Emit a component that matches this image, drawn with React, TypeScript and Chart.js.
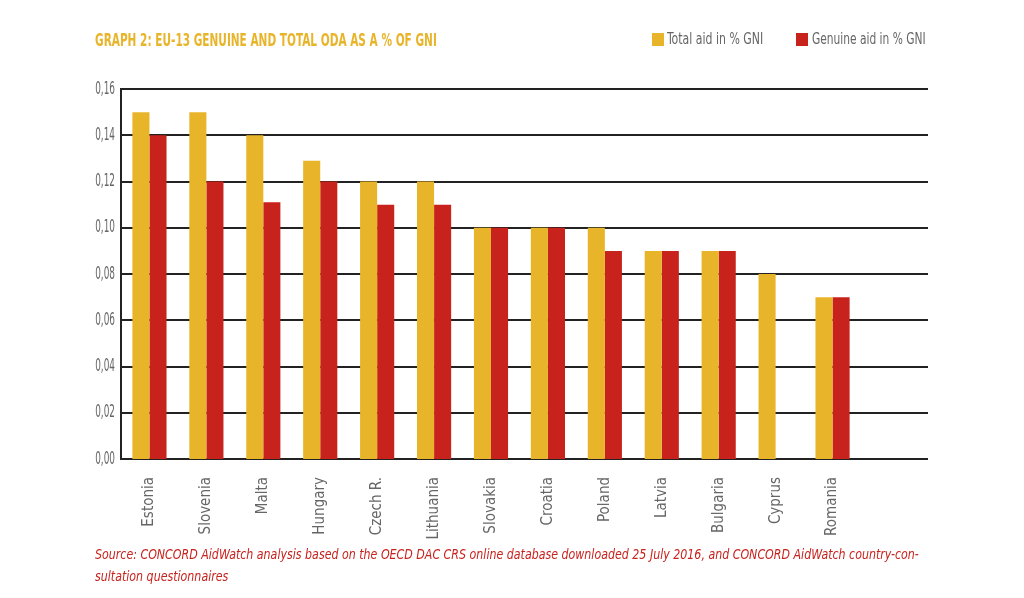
import React, { useEffect, useRef } from "react";
import { Chart, registerables } from "chart.js";

Chart.register(...registerables);

const countries = [
  "Estonia", "Slovenia", "Malta", "Hungary", "Czech R.", "Lithuania", "Slovakia",
  "Croatia", "Poland", "Latvia", "Bulgaria", "Cyprus", "Romania",
];
const totalAid = [0.15, 0.15, 0.14, 0.129, 0.12, 0.12, 0.1, 0.1, 0.1, 0.09, 0.09, 0.08, 0.07];
const genuineAid = [0.14, 0.12, 0.111, 0.12, 0.11, 0.11, 0.1, 0.1, 0.09, 0.09, 0.09, null, 0.07];
const yTicks = [0, 0.02, 0.04, 0.06, 0.08, 0.1, 0.12, 0.14, 0.16];

const GOLD = "#E8B42A";
const RED = "#C8221D";
const GRID = "#222222";
const FONT = "'Liberation Sans Narrow', 'DejaVu Sans Condensed', 'Liberation Sans', sans-serif";

const fmt = (v: number) => v.toFixed(2).replace(".", ",");

const gridPlugin = {
  id: "extGrid",
  beforeDatasetsDraw(chart: any) {
    const { ctx, chartArea, scales } = chart;
    const y = scales.y;
    const extra = 67;
    ctx.save();
    ctx.strokeStyle = GRID;
    ctx.lineWidth = 2;
    for (const t of yTicks) {
      const py = Math.round(y.getPixelForValue(t));
      ctx.beginPath();
      ctx.moveTo(chartArea.left, py);
      ctx.lineTo(chartArea.right + extra, py);
      ctx.stroke();
    }
    ctx.restore();
  },
  afterDraw(chart: any) {
    const { ctx, chartArea, scales } = chart;
    const y = scales.y;
    ctx.save();
    ctx.fillStyle = "#666";
    ctx.font = `18px ${FONT}`;
    ctx.textAlign = "right";
    ctx.textBaseline = "middle";
    for (const t of yTicks) {
      const py = y.getPixelForValue(t);
      ctx.save();
      ctx.translate(chartArea.left - 6, py);
      ctx.scale(0.55, 1);
      ctx.fillText(fmt(t), 0, 0);
      ctx.restore();
    }
    ctx.restore();
  },
};

export default function App() {
  const ref = useRef<HTMLCanvasElement | null>(null);

  useEffect(() => {
    if (!ref.current) return;
    const chart = new Chart(ref.current, {
      type: "bar",
      data: {
        labels: countries,
        datasets: [
          { label: "Total aid in % GNI", data: totalAid, backgroundColor: GOLD, categoryPercentage: 0.6, barPercentage: 1 },
          { label: "Genuine aid in % GNI", data: genuineAid as any, backgroundColor: RED, categoryPercentage: 0.6, barPercentage: 1 },
        ],
      },
      options: {
        responsive: false,
        animation: false,
        layout: { padding: { top: 89, right: 163, bottom: 0, left: 0 } },
        plugins: { legend: { display: false }, title: { display: false }, tooltip: { enabled: false } },
        scales: {
          x: {
            grid: { display: false, drawTicks: false },
            border: { display: false },
            ticks: {
              minRotation: 90,
              maxRotation: 90,
              padding: 18,
              color: "#666",
              font: { family: FONT, size: 15 },
            },
            afterFit: (s: any) => { s.height = 139; },
          },
          y: {
            min: 0,
            max: 0.16,
            grid: { display: false, drawTicks: false },
            border: { display: true, color: GRID, width: 2 },
            ticks: {
              stepSize: 0.02,
              display: false,
            },
            afterFit: (s: any) => { s.width = 121; },
          },
        },
      },
      plugins: [gridPlugin],
    });
    return () => chart.destroy();
  }, []);

  const cond = (scale: number): React.CSSProperties => ({
    transform: `scaleX(${scale})`,
    transformOrigin: "left top",
    whiteSpace: "nowrap",
  });

  return (
    <div style={{ position: "absolute", left: 0, top: 0, width: 1024, height: 598, background: "#fff", overflow: "hidden" }}>
      <canvas ref={ref} width={1024} height={598} style={{ position: "absolute", left: 0, top: 0, width: 1024, height: 598 }} />
      <div style={{ position: "absolute", left: 95, top: 29, fontFamily: FONT, fontWeight: "bold", fontSize: 18, color: GOLD, ...cond(0.65) }}>
        GRAPH 2: EU-13 GENUINE AND TOTAL ODA AS A % OF GNI
      </div>
      <div style={{ position: "absolute", left: 652, top: 33, width: 12, height: 13, background: GOLD }} />
      <div style={{ position: "absolute", left: 667, top: 29, fontFamily: FONT, fontSize: 16, color: "#666", ...cond(0.76) }}>
        Total aid in % GNI
      </div>
      <div style={{ position: "absolute", left: 796, top: 33, width: 12, height: 13, background: RED }} />
      <div style={{ position: "absolute", left: 812, top: 29, fontFamily: FONT, fontSize: 16, color: "#666", ...cond(0.74) }}>
        Genuine aid in % GNI
      </div>
      <div style={{ position: "absolute", left: 95, top: 543, fontFamily: FONT, fontStyle: "italic", fontSize: 13.5, lineHeight: "22px", color: RED, ...cond(0.91) }}>
        Source: CONCORD AidWatch analysis based on the OECD DAC CRS online database downloaded 25 July 2016, and CONCORD AidWatch country-con-<br />sultation questionnaires
      </div>
    </div>
  );
}
